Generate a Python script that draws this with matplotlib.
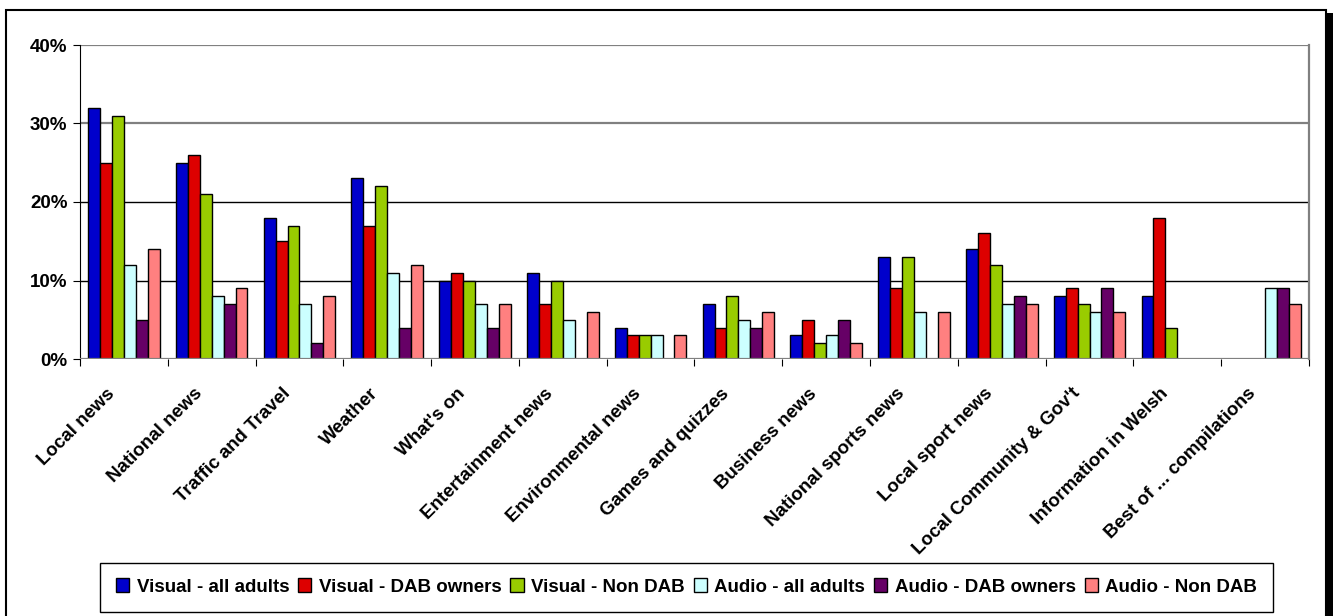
import matplotlib.pyplot as plt
import numpy as np
from matplotlib.patches import Rectangle
from matplotlib.ticker import FixedLocator, PercentFormatter, NullFormatter

plt.rcParams['font.family'] = ['Liberation Sans', 'DejaVu Sans']
plt.rcParams['font.weight'] = 'bold'

categories = [
    "Local news", "National news", "Traffic and Travel", "Weather",
    "What's on", "Entertainment news", "Environmental news",
    "Games and quizzes", "Business news", "National sports news",
    "Local sport news", "Local Community & Gov't", "Information in Welsh",
    "Best of ... compilations",
]

# percentages per content type
visual_all = [32, 25, 18, 23, 10, 11, 4, 7, 3, 13, 14, 8, 8, 0]
visual_dab = [25, 26, 15, 17, 11, 7, 3, 4, 5, 9, 16, 9, 18, 0]
visual_non_dab = [31, 21, 17, 22, 10, 10, 3, 8, 2, 13, 12, 7, 4, 0]
audio_all = [12, 8, 7, 11, 7, 5, 3, 5, 3, 6, 7, 6, 0, 9]
audio_dab = [5, 7, 2, 4, 4, 0, 0, 4, 5, 0, 8, 9, 0, 9]
audio_non_dab = [14, 9, 8, 12, 7, 6, 3, 6, 2, 6, 7, 6, 0, 7]

series = [
    ("Visual - all adults", visual_all, "#0000CC"),
    ("Visual - DAB owners", visual_dab, "#DD0000"),
    ("Visual - Non DAB", visual_non_dab, "#99CC00"),
    ("Audio - all adults", audio_all, "#CCFFFF"),
    ("Audio - DAB owners", audio_dab, "#660066"),
    ("Audio - Non DAB", audio_non_dab, "#FF8080"),
]

W, H = 1334, 616
fig = plt.figure(figsize=(W / 100, H / 100), dpi=100)
ax = fig.add_axes([80 / W, 1 - 359 / H, (1309 - 80) / W, (359 - 45) / H])

x = np.arange(len(categories))
bw = 0.136
for i, (name, vals, col) in enumerate(series):
    ax.bar(x + (i - 2.5) * bw, vals, bw, color=col, edgecolor='black',
           linewidth=1, label=name, zorder=3)

ax.set_xlim(-0.5, len(categories) - 0.5)
ax.set_ylim(0, 40)
ax.set_yticks([0, 10, 20, 30, 40])
ax.yaxis.set_major_formatter(PercentFormatter(decimals=0))

# gridlines: upper ones grey, lower ones black
for yv, c, lw in [(10, 'black', 1.0), (20, 'black', 1.0), (30, '#808080', 1.6), (40, '#808080', 1.6)]:
    ax.axhline(yv, color=c, lw=lw, zorder=1)

for side in ['top', 'bottom']:
    ax.spines[side].set_visible(False)
ax.spines['right'].set_color('#808080')
ax.spines['right'].set_linewidth(1.6)
ax.spines['left'].set_color('black')
ax.axhline(0, color='#808080', lw=1.6, zorder=4)

# ticks sit between the groups; category names hang below the group centres
ax.xaxis.set_major_locator(FixedLocator(np.arange(len(categories) + 1) - 0.5))
ax.xaxis.set_major_formatter(NullFormatter())
ax.tick_params(axis='x', which='major', length=5, direction='out', color='black')
ax.tick_params(axis='y', length=5, direction='out', pad=4, labelsize=13.5)
for xi, cat in zip(x, categories):
    ax.annotate(cat, xy=(xi, 0), xycoords=('data', 'axes fraction'),
                xytext=(-13, -18.7), textcoords='offset points',
                rotation=45, ha='right', va='top', rotation_mode='anchor',
                fontsize=13.5, fontweight='bold', annotation_clip=False)

leg = fig.legend(loc='center', ncol=6, mode='expand', borderaxespad=0,
                 bbox_to_anchor=(100 / W, 1 - 611 / H, (1273 - 100) / W, 48 / H),
                 fancybox=False, edgecolor='black', framealpha=1,
                 handlelength=0.7, handleheight=0.7, handletextpad=0.4,
                 borderpad=0.85, prop={'size': 13.5, 'weight': 'bold'})
leg.get_frame().set_linewidth(1.0)

# outer frame with shadow on the right
fig.add_artist(Rectangle((6 / W, -0.05), (1326 - 6) / W, 1.05 - 10 / H,
                         transform=fig.transFigure, fill=False,
                         edgecolor='black', linewidth=1.5))
fig.add_artist(Rectangle((1326 / W, -0.05), 7 / W, 1.05 - 13 / H,
                         transform=fig.transFigure, facecolor='black',
                         edgecolor='none'))

fig.savefig('out.png', dpi=100)
